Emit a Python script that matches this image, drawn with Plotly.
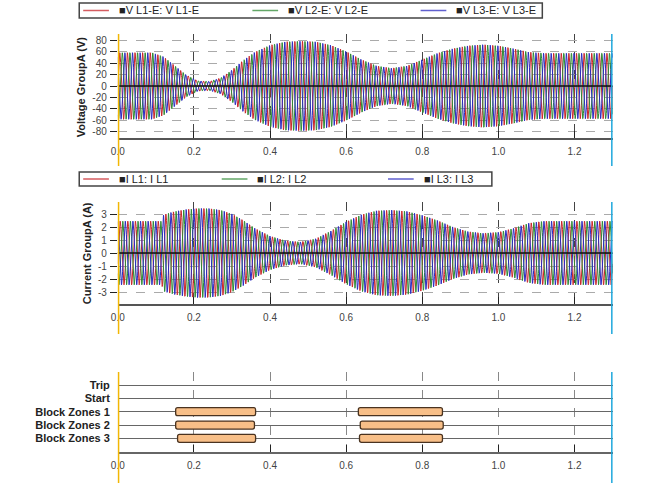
import numpy as np
import plotly.graph_objects as go

# ---- recorded data -------------------------------------------------------
FREQ_HZ = 50.0
T_END = 1.3
DT = 0.0005

# voltage envelope (peak V) at key instants
v_env_t = [0.00, 0.09, 0.12, 0.15, 0.18, 0.21, 0.24, 0.27, 0.30, 0.33, 0.36, 0.40,
           0.44, 0.48, 0.52, 0.56, 0.60, 0.64, 0.68, 0.72, 0.76, 0.80, 0.84, 0.88,
           0.92, 0.96, 1.00, 1.04, 1.08, 1.12, 1.30]
v_env_a = [58, 58, 51, 35, 19, 9, 8, 14, 28, 45, 59, 71,
           77, 78, 77, 71, 60, 46, 35, 31, 35, 46, 57, 65,
           70, 72, 70, 65, 59, 57, 57]

# current envelope (peak A) at key instants
i_env_t = [0.00, 0.115, 0.12, 0.15, 0.18, 0.21, 0.24, 0.27, 0.30, 0.33, 0.36, 0.40,
           0.44, 0.48, 0.52, 0.56, 0.60, 0.64, 0.68, 0.72, 0.76, 0.80, 0.84, 0.88,
           0.92, 0.96, 1.00, 1.04, 1.08, 1.12, 1.30]
i_env_a = [2.45, 2.45, 2.95, 3.2, 3.35, 3.43, 3.42, 3.3, 3.0, 2.5, 1.9, 1.3,
           0.95, 0.85, 1.1, 1.7, 2.4, 2.95, 3.25, 3.3, 3.2, 2.9, 2.5, 2.0,
           1.65, 1.52, 1.6, 1.9, 2.3, 2.45, 2.45]

phase_deg = [0, -120, 120]
v_names = ["\u25a0V L1-E: V L1-E", "\u25a0V L2-E: V L2-E", "\u25a0V L3-E: V L3-E"]
i_names = ["\u25a0I L1: I L1", "\u25a0I L2: I L2", "\u25a0I L3: I L3"]
phase_colors = ["#c8262b", "#2f8a35", "#2b2bbf"]

# binary signals
signal_labels = ["Trip", "Start", "Block Zones 1", "Block Zones 2", "Block Zones 3"]
signal_rows = [5, 4, 3, 2, 1]
# (row, start, end) of active intervals
active_row = [3, 3, 2, 2, 1, 1]
active_start = [0.152, 0.632, 0.152, 0.637, 0.157, 0.635]
active_end = [0.362, 0.853, 0.359, 0.855, 0.362, 0.853]

cursor_times = [0.0, 1.3]
cursor_colors = ["#f2b705", "#1fa8dd"]
x_ticks = [0.0, 0.2, 0.4, 0.6, 0.8, 1.0, 1.2]
v_ticks = [80, 60, 40, 20, 0, -20, -40, -60, -80]
i_ticks = [3, 2, 1, 0, -1, -2, -3]

# ---- waveforms -----------------------------------------------------------
t = np.arange(0, T_END + DT / 2, DT)
v_env = np.interp(t, v_env_t, v_env_a)
i_env = np.interp(t, i_env_t, i_env_a)

FONT = "Arial, Liberation Sans, sans-serif"
W, H = 667, 483


def px_x(p):
    return p / W


def px_y(p):
    return 1 - p / H


fig = go.Figure()

for k in range(3):
    ph = np.deg2rad(phase_deg[k])
    fig.add_trace(go.Scatter(
        x=t, y=v_env * np.sin(2 * np.pi * FREQ_HZ * t + ph),
        mode="lines", line=dict(color=phase_colors[k], width=1),
        name=v_names[k], xaxis="x", yaxis="y", showlegend=False))
for k in range(3):
    ph = np.deg2rad(phase_deg[k])
    fig.add_trace(go.Scatter(
        x=t, y=i_env * np.sin(2 * np.pi * FREQ_HZ * t + ph - np.deg2rad(20)),
        mode="lines", line=dict(color=phase_colors[k], width=1),
        name=i_names[k], xaxis="x2", yaxis="y2", showlegend=False))

fig.add_trace(go.Bar(
    y=active_row, base=active_start,
    x=[e - s for s, e in zip(active_start, active_end)],
    orientation="h", width=0.6,
    marker=dict(color="#f8bf88", line=dict(color="#4a3320", width=1.3), cornerradius=2),
    showlegend=False, xaxis="x3", yaxis="y3", hoverinfo="skip"))

x_dom = [px_x(112), px_x(612)]
tick_font = dict(family=FONT, size=10, color="#444")

xcommon = dict(range=[0, T_END], domain=x_dom, tickvals=x_ticks,
               ticktext=[f"{v:.1f}" for v in x_ticks], tickfont=tick_font,
               showline=True, linecolor="#555", linewidth=1.5,
               ticks="inside", ticklen=7, tickcolor="#222", tickwidth=1.2,
               showgrid=True, gridcolor="#444", griddash="dash", gridwidth=1,
               zeroline=False, ticklabelstandoff=4)

ycommon = dict(tickfont=tick_font, ticks="outside", ticklen=7, tickcolor="#222",
               tickwidth=1.2, showgrid=True, gridcolor="#aaa", griddash="dash",
               zeroline=False, showline=False, ticklabelstandoff=1)

fig.update_layout(
    width=W, height=H, margin=dict(l=0, r=0, t=0, b=0),
    paper_bgcolor="white", plot_bgcolor="white",
    font=dict(family=FONT, color="#222"),
    barmode="overlay", showlegend=False,
    xaxis=dict(anchor="y", **xcommon),
    xaxis2=dict(anchor="y2", **xcommon),
    xaxis3=dict(anchor="y3", **{**xcommon, "gridcolor": "#888", "linecolor": "#666"}),
    yaxis=dict(domain=[px_y(137.7), px_y(34.3)], range=[-90, 90], tickvals=v_ticks,
               ticktext=[str(v) for v in v_ticks], anchor="x", **ycommon),
    yaxis2=dict(domain=[px_y(303.7), px_y(202.3)], range=[-3.9, 3.9], tickvals=i_ticks,
                ticktext=[str(v) for v in i_ticks], anchor="x2", **ycommon),
    yaxis3=dict(domain=[px_y(451.7), px_y(371.7)], range=[0, 6], tickvals=signal_rows,
                ticktext=signal_labels, ticks="", showline=False,
                tickfont=dict(family=FONT, size=11, color="#222", weight="bold"),
                showgrid=True, gridcolor="#666", gridwidth=1.3, zeroline=False,
                anchor="x3", ticklabelstandoff=7),
)

# zero reference lines over the waveforms
for xd, ya in [("x domain", "y"), ("x2 domain", "y2")]:
    fig.add_shape(type="line", xref=xd, yref=ya, x0=0, x1=1, y0=0, y1=0,
                  line=dict(color="#111", width=1.5), layer="above")

# cursor lines, one segment per panel
panel_spans = {"x": (34, 166), "x2": (202, 334), "x3": (372, 483)}
for xr, span in panel_spans.items():
    for ct, cc in zip(cursor_times, cursor_colors):
        fig.add_shape(type="line", xref=xr, yref="paper", x0=ct, x1=ct,
                      y0=px_y(span[1]), y1=px_y(span[0]),
                      line=dict(color=cc, width=3), layer="above")


def draw_legend(names, colors, box, line_starts):
    """Framed single-row legend: box=(left, top, right, bottom) in px."""
    l, tp, r, b = box
    fig.add_shape(type="rect", xref="paper", yref="paper",
                  x0=px_x(l), x1=px_x(r), y0=px_y(b), y1=px_y(tp),
                  line=dict(color="#444", width=1.5), fillcolor="white", layer="above")
    yc = (tp + b) / 2
    for name, col, xs in zip(names, colors, line_starts):
        fig.add_shape(type="line", xref="paper", yref="paper",
                      x0=px_x(xs), x1=px_x(xs + 26), y0=px_y(yc), y1=px_y(yc),
                      line=dict(color=col, width=1.5), opacity=0.75, layer="above")
        fig.add_annotation(text=name, xref="paper", yref="paper",
                           x=px_x(xs + 34), y=px_y(yc), xanchor="left", yanchor="middle",
                           showarrow=False,
                           font=dict(family=FONT, size=11, color="#222"))


draw_legend(v_names, phase_colors, (73, 3, 541, 18), [77, 248, 418])
draw_legend(i_names, phase_colors, (73, 172, 490, 186), [77, 217, 385])

# axis titles
fig.add_annotation(text="Voltage GroupA (V)", xref="paper", yref="paper",
                   x=px_x(75), y=px_y(87), textangle=-90, showarrow=False,
                   xanchor="center", yanchor="middle",
                   font=dict(family=FONT, size=11, color="#222", weight="bold"))
fig.add_annotation(text="Current GroupA (A)", xref="paper", yref="paper",
                   x=px_x(81), y=px_y(253), textangle=-90, showarrow=False,
                   xanchor="center", yanchor="middle",
                   font=dict(family=FONT, size=11, color="#222", weight="bold"))

fig.write_html("out.html")
